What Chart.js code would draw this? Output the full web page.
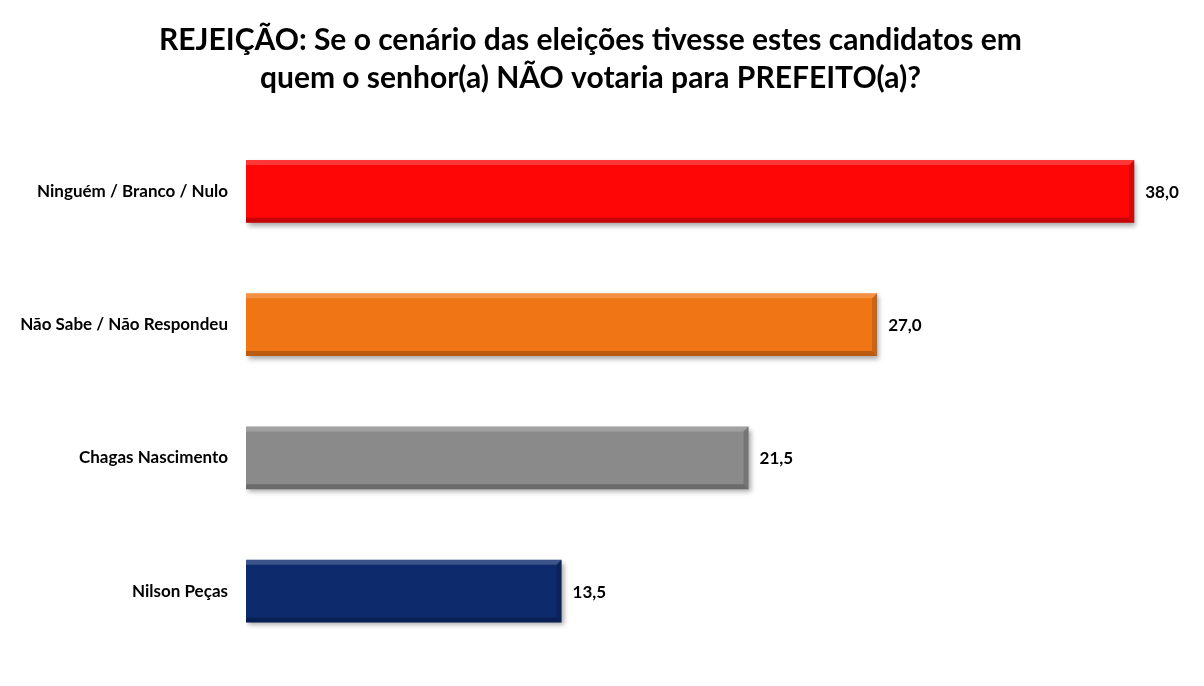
<!DOCTYPE html>
<html>
<head>
<meta charset="utf-8">
<script src="https://cdn.jsdelivr.net/npm/chart.js@4"></script>
<style>
  html, body { margin: 0; padding: 0; background: #fff; }
  #box { width: 1204px; height: 686px; }
</style>
</head>
<body>
<div id="box"><canvas id="rejChart"></canvas></div>
<script>
// dados da pesquisa
const categorias = ['Ninguém / Branco / Nulo', 'Não Sabe / Não Respondeu', 'Chagas Nascimento', 'Nilson Peças'];
const valores = [38.0, 27.0, 21.5, 13.5];
const cores = ['#fe0606', '#f07514', '#8a8a8a', '#0c2a6c'];
const titulo = ['REJEIÇÃO: Se o cenário das eleições tivesse estes candidatos em', 'quem o senhor(a) NÃO votaria para PREFEITO(a)?'];

const FONTE = 'Lato, "Open Sans", sans-serif';

// sombra + chanfro nas barras e rótulos de valor
const bevelPlugin = {
    id: 'bevel',
    beforeDatasetsDraw(chart) {
        const ctx = chart.ctx;
        ctx.save();
        ctx.shadowColor = 'rgba(0,0,0,0.35)';
        ctx.shadowBlur = 5;
        ctx.shadowOffsetX = 2;
        ctx.shadowOffsetY = 3;
    },
    afterDatasetsDraw(chart) {
        const ctx = chart.ctx;
        ctx.restore();
        const meta = chart.getDatasetMeta(0);
        meta.data.forEach((bar, i) => {
            const left = bar.base, right = bar.x;
            const top = bar.y - bar.height / 2, bottom = bar.y + bar.height / 2;
            const b = 5;
            ctx.save();
            // topo claro
            ctx.fillStyle = 'rgba(255,255,255,0.2)';
            ctx.beginPath();
            ctx.moveTo(left, top); ctx.lineTo(right, top);
            ctx.lineTo(right - b, top + b); ctx.lineTo(left, top + b);
            ctx.closePath(); ctx.fill();
            // base escura
            ctx.fillStyle = 'rgba(0,0,0,0.22)';
            ctx.beginPath();
            ctx.moveTo(left, bottom); ctx.lineTo(right, bottom);
            ctx.lineTo(right - b, bottom - b); ctx.lineTo(left, bottom - b);
            ctx.closePath(); ctx.fill();
            // ponta direita
            ctx.fillStyle = 'rgba(0,0,0,0.15)';
            ctx.beginPath();
            ctx.moveTo(right, top); ctx.lineTo(right, bottom);
            ctx.lineTo(right - b, bottom - b); ctx.lineTo(right - b, top + b);
            ctx.closePath(); ctx.fill();
            // valor
            ctx.fillStyle = '#000';
            ctx.font = 'bold 17px ' + FONTE;
            ctx.textAlign = 'left';
            ctx.textBaseline = 'middle';
            ctx.fillText(valores[i].toFixed(1).replace('.', ','), right + 11, bar.y + 1);
            ctx.restore();
        });
    }
};

function initChart() {
    const ctx = document.getElementById('rejChart').getContext('2d');
    window.myChart = new Chart(ctx, {
        type: 'bar',
        data: {
            labels: categorias,
            datasets: [{
                data: valores,
                backgroundColor: cores,
                borderWidth: 0,
                categoryPercentage: 1,
                barPercentage: 0.47
            }]
        },
        options: {
            indexAxis: 'y',
            responsive: true,
            maintainAspectRatio: false,
            animation: false,
            layout: { padding: { left: 0, right: 23, top: 0, bottom: 13 } },
            plugins: {
                legend: { display: false },
                tooltip: { enabled: false },
                title: {
                    display: true,
                    text: titulo,
                    color: '#000',
                    font: { family: FONTE, size: 30, weight: 'bold', lineHeight: 1.27 },
                    padding: { top: 21, bottom: 27.5 }
                }
            },
            scales: {
                x: {
                    display: false,
                    min: 0,
                    max: 40
                },
                y: {
                    grid: { display: false, drawTicks: false },
                    border: { display: false },
                    afterFit(scale) { scale.width = 246; },
                    ticks: {
                        color: '#000',
                        padding: 18,
                        font: { family: FONTE, size: 17, weight: 'bold' }
                    }
                }
            }
        },
        plugins: [bevelPlugin]
    });
}

window.onload = () => {
    initChart();
};
</script>
</body>
</html>
